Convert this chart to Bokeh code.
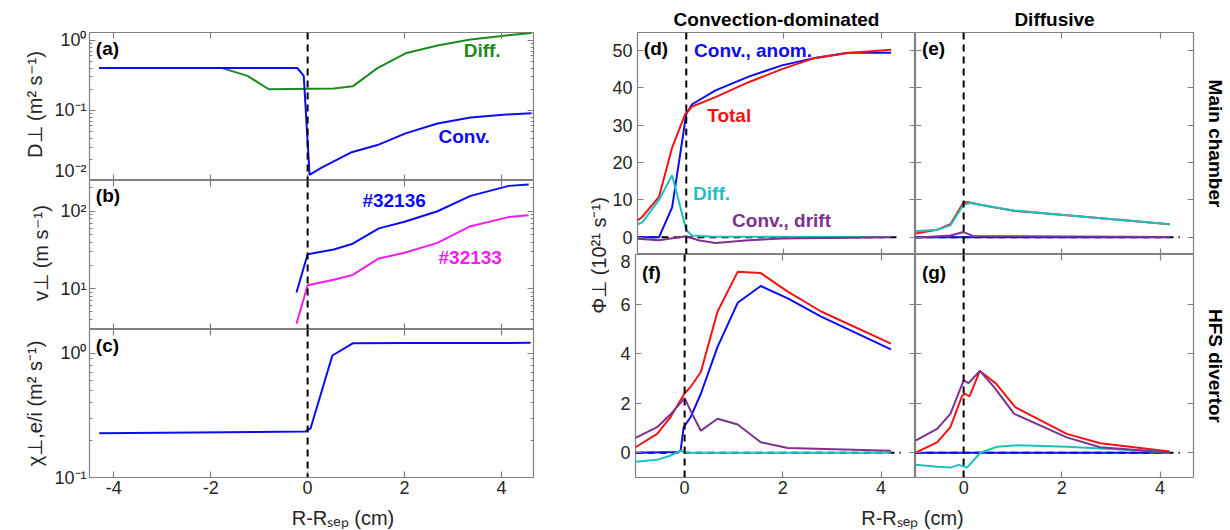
import numpy as np
from bokeh.plotting import figure
from bokeh.layouts import row, column
from bokeh.models import Range1d, FixedTicker, LinearAxis, LogAxis, Span, Label
from bokeh.embed import file_html
from bokeh.resources import INLINE

# ---------------- data ----------------
# (a) D_perp
a_conv_x = [-4.3, -0.21, -0.08, 0.04, 0.27, 0.89, 1.44, 2.02, 2.68, 3.36, 4.1, 4.62]
a_conv_y = [0.40, 0.40, 0.31, 0.012, 0.015, 0.025, 0.032, 0.047, 0.065, 0.079, 0.087, 0.091]
a_diff_x = [-4.3, -1.76, -1.24, -0.8, 0.54, 0.93, 1.44, 2.02, 2.68, 3.36, 4.1, 4.62]
a_diff_y = [0.40, 0.40, 0.31, 0.20, 0.205, 0.22, 0.40, 0.65, 0.84, 1.02, 1.17, 1.27]
# (b) v_perp
b_x = [-0.23, 0.0, 0.54, 0.93, 1.47, 2.0, 2.68, 3.36, 4.15, 4.56]
b_32136 = [8.9, 27.7, 32, 38, 60, 73, 100, 158, 213, 222]
b_32133 = [3.5, 11, 13, 15, 24.5, 29, 39, 64, 84, 89]
# (c) chi_perp
c_x = [-4.3, -0.05, 0.06, 0.51, 0.93, 2.0, 4.6]
c_chi = [0.227, 0.234, 0.248, 0.957, 1.2, 1.205, 1.21]
# (d) main chamber, convection-dominated
d_tot_x = [-1.0, -0.9, -0.56, -0.29, -0.02, 0.12, 0.6, 1.28, 1.96, 2.64, 3.32, 4.2]
d_tot_y = [4.5, 5.5, 10.8, 24, 33, 35, 37.5, 41.5, 45, 48, 49.3, 50.2]
d_anom_x = [-1.0, -0.56, -0.29, 0.0, 0.12, 0.6, 1.28, 1.96, 2.64, 3.32, 4.2]
d_anom_y = [0.0, 0.0, 8, 33, 35.6, 39.3, 43, 46, 48, 49.4, 49.4]
d_diff_x = [-1.0, -0.9, -0.56, -0.29, 0.0, 0.12, 0.5, 4.2]
d_diff_y = [3.5, 4.0, 10, 16.6, 1.9, 0.5, 0.2, 0.1]
d_drift_x = [-1.0, -0.56, 0.0, 0.25, 0.6, 1.28, 1.96, 4.2]
d_drift_y = [-0.4, -0.8, 0.3, -0.8, -1.5, -0.8, -0.3, 0.0]
# (e) main chamber, diffusive
e_tot_x = [-0.98, -0.54, -0.27, 0.0, 0.1, 0.41, 1.02, 2.1, 4.2]
e_tot_y = [1.0, 2.0, 3.5, 9.4, 9.4, 8.5, 7.1, 5.9, 3.5]
e_anom_x = [-0.98, 4.2]
e_anom_y = [0.0, 0.0]
e_diff_x = [-0.98, -0.54, -0.27, 0.0, 0.14, 1.02, 2.1, 4.2]
e_diff_y = [1.6, 2.0, 3.2, 8.8, 9.2, 7.2, 5.9, 3.5]
e_drift_x = [-0.98, -0.27, 0.0, 0.2, 4.2]
e_drift_y = [-0.1, 0.5, 1.4, 0.3, 0.1]
# (f) HFS divertor, convection-dominated
f_tot_x = [-1.0, -0.56, -0.29, 0.0, 0.12, 0.33, 0.67, 1.08, 1.55, 2.1, 2.78, 4.2]
f_tot_y = [0.22, 0.76, 1.43, 2.4, 2.65, 3.26, 5.7, 7.3, 7.25, 6.5, 5.7, 4.4]
f_anom_x = [-1.0, -0.12, -0.08, -0.02, 0.12, 0.33, 0.67, 1.08, 1.55, 2.1, 2.78, 4.2]
f_anom_y = [0.0, 0.03, 0.1, 1.03, 1.43, 2.38, 4.27, 6.05, 6.73, 6.23, 5.49, 4.17]
f_diff_x = [-1.0, -0.56, -0.29, -0.08, 0.06, 4.2]
f_diff_y = [-0.36, -0.28, -0.12, 0.08, 0.0, 0.0]
f_drift_x = [-1.0, -0.56, -0.29, 0.0, 0.12, 0.33, 0.67, 1.08, 1.55, 2.1, 4.2]
f_drift_y = [0.6, 1.03, 1.54, 2.2, 1.7, 0.89, 1.37, 1.14, 0.42, 0.19, 0.08]
# (g) HFS divertor, diffusive
g_tot_x = [-0.98, -0.54, -0.27, -0.03, 0.03, 0.12, 0.33, 0.66, 1.05, 2.1, 2.78, 4.2]
g_tot_y = [0.0, 0.42, 1.03, 2.3, 2.38, 2.27, 3.3, 2.79, 1.84, 0.76, 0.38, 0.05]
g_anom_x = [-0.98, 4.2]
g_anom_y = [0.0, 0.0]
g_diff_x = [-0.98, -0.54, -0.27, -0.1, 0.07, 0.34, 0.68, 1.1, 2.1, 3.5, 4.2]
g_diff_y = [-0.49, -0.57, -0.6, -0.49, -0.6, 0.0, 0.24, 0.3, 0.24, 0.1, 0.0]
g_drift_x = [-0.98, -0.54, -0.27, 0.0, 0.1, 0.33, 0.62, 1.03, 2.1, 2.78, 4.2]
g_drift_y = [0.49, 0.96, 1.57, 2.92, 2.81, 3.3, 2.65, 1.57, 0.62, 0.22, 0.01]

# ticks
left_xticks = [-4, -2, 0, 2, 4]
right_xticks = [0, 2, 4]
d_yticks = [0, 10, 20, 30, 40, 50]
f_yticks = [0, 2, 4, 6, 8]
ZERO_X = [-1.0, 4.4]

# ---------------- style ----------------
FONT = "Liberation Sans"
BLUE, RED, GREEN = "#0c0cf2", "#f21414", "#1e8a1e"
MAGENTA, CYAN, PURPLE = "#f01ef0", "#1cc0c0", "#7e318e"
FRAME, TXT = "#808080", "#262626"
LW = 2
XLABEL = "R-R\u209b\u2091\u209a (cm)"
PHI = "\u03a6\u22a5 (10\u00b2\u00b9 s\u207b\u00b9)"


def base(width, height, xr, yr, log=False, left=0, right=0, top=0, bottom=0):
    p = figure(width=width, height=height, x_range=xr, y_range=yr,
               y_axis_type="log" if log else "linear",
               x_axis_location=None, y_axis_location=None,
               tools="", toolbar_location=None, output_backend="svg")
    p.min_border_left = left
    p.min_border_right = right
    p.min_border_top = top
    p.min_border_bottom = bottom
    p.grid.visible = False
    p.outline_line_color = FRAME
    p.outline_line_width = 1.2
    p.background_fill_color = "white"
    p.border_fill_color = "white"
    return p


def strip(width, height):
    # blank text-holder figure (for labels that sit between panels)
    p = base(width, height, Range1d(0, width), Range1d(0, height))
    p.outline_line_color = None
    return p


def axis(p, side, ticks, log=False, labels=None, minor=None, standoff=4, label=None):
    cls = LogAxis if log else LinearAxis
    ax = cls(ticker=FixedTicker(ticks=ticks, minor_ticks=minor or []))
    ax.axis_line_color = None
    ax.major_tick_in = 6
    ax.major_tick_out = 0
    ax.minor_tick_in = 3
    ax.minor_tick_out = 0
    ax.major_tick_line_color = FRAME
    ax.minor_tick_line_color = FRAME
    ax.major_tick_line_width = 1.2
    if labels is None:
        ax.major_label_overrides = {t: "" for t in ticks}
        ax.major_label_text_font_size = "0px"
        ax.major_label_standoff = 0
    else:
        ax.major_label_overrides = labels
        ax.major_label_text_font = FONT
        ax.major_label_text_font_size = "18px"
        ax.major_label_text_color = TXT
        ax.major_label_standoff = standoff
    if label is not None:
        ax.axis_label = label
        ax.axis_label_text_font = FONT
        ax.axis_label_text_font_size = "20px"
        ax.axis_label_text_font_style = "normal"
        ax.axis_label_text_color = TXT
        ax.axis_label_standoff = 5
    p.add_layout(ax, side)
    return ax


def txt(p, x, y, text, color=TXT, size="19px", bold=True, align="left",
        baseline="middle", angle=0.0):
    p.add_layout(Label(x=x, y=y, text=text, text_color=color, text_font=FONT,
                       text_font_size=size,
                       text_font_style="bold" if bold else "normal",
                       text_align=align, text_baseline=baseline, angle=angle))


def vdash(p):
    p.add_layout(Span(location=0, dimension="height", line_color="black",
                      line_width=2, line_dash="7 5"))


def log_minor(exps):
    return [k * 10.0 ** e for e in exps for k in range(2, 10)]


SUP = {"0": "\u2070", "1": "\u00b9", "2": "\u00b2", "-": "\u207b"}


def pow10(e):
    return "10" + "".join(SUP[c] for c in str(e))


# ---------------- left column ----------------
lx = Range1d(-4.5, 4.66)
LW_L, LEFT_B, RIGHT_B = 543, 89, 10

fa = base(LW_L, 180, lx, Range1d(0.01, 1.288), log=True, left=LEFT_B, right=RIGHT_B, top=32)
fb = base(LW_L, 149, lx, Range1d(2.95, 250), log=True, left=LEFT_B, right=RIGHT_B)
fc = base(LW_L, 172, lx, Range1d(0.1, 1.549), log=True, left=LEFT_B, right=RIGHT_B, bottom=24)
xl = strip(LW_L, 28)

for p in (fa, fb, fc):
    axis(p, "above", left_xticks)
    vdash(p)
axis(fa, "below", left_xticks)
axis(fb, "below", left_xticks)
axis(fc, "below", left_xticks, labels={t: str(t) for t in left_xticks}, standoff=3)

axis(fa, "left", [0.01, 0.1, 1.0], log=True,
     labels={0.01: pow10(-2), 0.1: pow10(-1), 1.0: pow10(0)},
     minor=log_minor([-2, -1, 0]), standoff=3, label="D\u22a5 (m\u00b2 s\u207b\u00b9)")
axis(fa, "right", [0.01, 0.1, 1.0], log=True, minor=log_minor([-2, -1, 0]))
axis(fb, "left", [10, 100], log=True,
     labels={10: pow10(1), 100: pow10(2)},
     minor=log_minor([0, 1, 2]), standoff=3, label="v\u22a5 (m s\u207b\u00b9)")
axis(fb, "right", [10, 100], log=True, minor=log_minor([0, 1, 2]))
axis(fc, "left", [0.1, 1.0], log=True,
     labels={0.1: pow10(-1), 1.0: pow10(0)},
     minor=log_minor([-1, 0]), standoff=3, label="\u03c7\u22a5,e/i (m\u00b2 s\u207b\u00b9)")
axis(fc, "right", [0.1, 1.0], log=True, minor=log_minor([-1, 0]))

fa.line(a_diff_x, a_diff_y, line_color=GREEN, line_width=LW)
fa.line(a_conv_x, a_conv_y, line_color=BLUE, line_width=LW)
fb.line(b_x, b_32136, line_color=BLUE, line_width=LW)
fb.line(b_x, b_32133, line_color=MAGENTA, line_width=LW)
fc.line(c_x, c_chi, line_color=BLUE, line_width=LW)

txt(fa, -4.37, 0.774, "(a)", color="black")
txt(fb, -4.37, 158, "(b)", color="black")
txt(fc, -4.37, 1.15, "(c)", color="black")
txt(fa, 3.22, 0.71, "Diff.", color=GREEN)
txt(fa, 2.7, 0.042, "Conv.", color=BLUE)
txt(fb, 1.13, 138, "#32136", color=BLUE)
txt(fb, 2.7, 25.2, "#32133", color=MAGENTA)

txt(xl, 310, 12, XLABEL, size="20px", bold=False, align="center", baseline="alphabetic")

# ---------------- y-label strip between the columns ----------------
phi = strip(66, 501)
txt(phi, 55, 246, PHI, size="20px", bold=False, align="center", angle=np.pi / 2)

# ---------------- right grid ----------------
rx1 = Range1d(-1.0, 4.7)
rx2 = Range1d(-0.98, 4.68)
ry_top = Range1d(-4.6, 54.8)
ry_bot = Range1d(-1.0, 8.0)

fd = base(306, 254, rx1, ry_top, left=26, top=32)
fe = base(313, 254, rx2, ry_top, right=35, top=32)
ff = base(306, 247, rx1, ry_bot, left=26, bottom=24)
fg = base(313, 247, rx2, ry_bot, right=35, bottom=24)
xr = strip(619, 28)

for p, t in ((fd, "Convection-dominated"), (fe, "Diffusive")):
    p.title.text = t
    p.title.align = "center"
    p.title.offset = -5
    p.title.standoff = 6
    p.title.text_font = FONT
    p.title.text_font_size = "19px"
    p.title.text_font_style = "bold"
    p.title.text_color = "black"

for p in (fd, fe, ff, fg):
    axis(p, "above", right_xticks)
    vdash(p)
    p.line(ZERO_X, [0, 0], line_color="black", line_width=2, line_dash="7 5")
axis(fd, "below", right_xticks)
axis(fe, "below", right_xticks)
axis(ff, "below", right_xticks, labels={t: str(t) for t in right_xticks}, standoff=3)
axis(fg, "below", right_xticks, labels={t: str(t) for t in right_xticks}, standoff=3)

axis(fd, "left", d_yticks, labels={t: str(t) for t in d_yticks}, standoff=5)
axis(fd, "right", d_yticks)
axis(fe, "left", d_yticks)
axis(fe, "right", d_yticks)
axis(ff, "left", f_yticks, labels={t: str(t) for t in f_yticks}, standoff=5)
axis(ff, "right", f_yticks)
axis(fg, "left", f_yticks)
axis(fg, "right", f_yticks)

for p, t in ((fe, "Main chamber"), (fg, "HFS divertor")):
    ax = p.right[-1]
    ax.axis_label = t
    ax.axis_label_text_font = FONT
    ax.axis_label_text_font_size = "19px"
    ax.axis_label_text_font_style = "bold"
    ax.axis_label_text_color = "black"
    ax.axis_label_standoff = 11

for p, xs in ((fd, (d_tot_x, d_tot_y, d_anom_x, d_anom_y, d_diff_x, d_diff_y, d_drift_x, d_drift_y)),
              (fe, (e_tot_x, e_tot_y, e_anom_x, e_anom_y, e_diff_x, e_diff_y, e_drift_x, e_drift_y)),
              (ff, (f_tot_x, f_tot_y, f_anom_x, f_anom_y, f_diff_x, f_diff_y, f_drift_x, f_drift_y)),
              (fg, (g_tot_x, g_tot_y, g_anom_x, g_anom_y, g_diff_x, g_diff_y, g_drift_x, g_drift_y))):
    tx, ty, ax_, ay, dx, dy, rx, ry = xs
    p.line(ax_, ay, line_color=BLUE, line_width=LW)
    p.line(tx, ty, line_color=RED, line_width=LW)
    p.line(dx, dy, line_color=CYAN, line_width=LW)
    p.line(rx, ry, line_color=PURPLE, line_width=LW)

txt(fd, -0.87, 50.4, "(d)", color="black")
txt(fe, -0.85, 50.4, "(e)", color="black")
txt(ff, -0.87, 7.29, "(f)", color="black")
txt(fg, -0.85, 7.29, "(g)", color="black")
txt(fd, 0.16, 50.0, "Conv., anom.", color=BLUE)
txt(fd, 0.43, 32.6, "Total", color=RED)
txt(fd, 0.14, 11.7, "Diff.", color=CYAN)
txt(fd, 0.94, 4.5, "Conv., drift", color=PURPLE)

txt(xr, 303, 12, XLABEL, size="20px", bold=False, align="center", baseline="alphabetic")

layout = row(column(fa, fb, fc, xl), phi, column(row(fd, fe), row(ff, fg), xr))
open("out.html", "w").write(file_html(layout, INLINE))
